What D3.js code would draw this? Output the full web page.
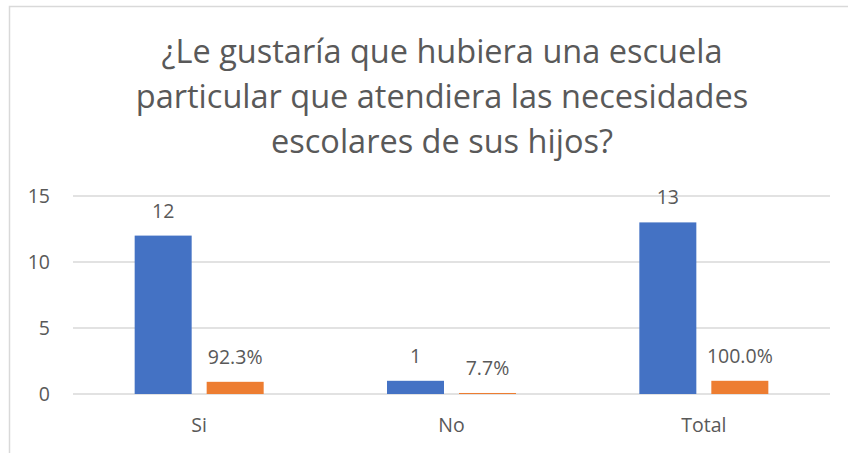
<!DOCTYPE html>
<html>
<head>
<meta charset="utf-8">
<script src="https://cdn.jsdelivr.net/npm/d3@7"></script>
<style>
  body { margin: 0; background: #fff; }
  svg { display: block; font-family: "Open Sans", sans-serif; }
</style>
</head>
<body>
<div id="chart"></div>
<script>
// chart data
const categories = ['Si', 'No', 'Total'];
const counts = [12, 1, 13];
const shares = [0.923, 0.077, 1.0];
const yTicks = [0, 5, 10, 15];
const titleLines = [
    '¿Le gustaría que hubiera una escuela',
    'particular que atendiera las necesidades',
    'escolares de sus hijos?'
];

const width = 848, height = 453;
const textColor = '#595959';
const labelSize = 19.5;

const svg = d3.select('#chart').append('svg')
    .attr('width', width)
    .attr('height', height);

// frame (only top and left edges show in the crop)
svg.append('path')
    .attr('d', 'M9.5,453 V6.5 H848')
    .attr('fill', 'none')
    .attr('stroke', '#d9d9d9')
    .attr('stroke-width', 1.5);

// title
svg.append('g').selectAll('text')
    .data(titleLines)
    .enter().append('text')
    .attr('x', 442)
    .attr('y', (d, i) => 63 + i * 45)
    .attr('text-anchor', 'middle')
    .attr('fill', textColor)
    .attr('font-size', 32.5)
    .text(d => d);

const plot = { left: 73, right: 830, top: 196, bottom: 394 };

const x0 = d3.scaleBand()
    .domain(categories)
    .range([plot.left, plot.right]);

const x1 = d3.scaleBand()
    .domain(['count', 'share'])
    .range([0, 129])
    .paddingInner(15 / 72);

const y = d3.scaleLinear()
    .domain([0, 15])
    .range([plot.bottom, plot.top]);

// gridlines
svg.append('g')
    .selectAll('line')
    .data(yTicks)
    .enter().append('line')
    .attr('x1', plot.left)
    .attr('x2', plot.right)
    .attr('y1', d => y(d))
    .attr('y2', d => y(d))
    .attr('stroke', '#d9d9d9')
    .attr('stroke-width', 1.3);

// y axis labels
const yAxis = svg.append('g')
    .attr('transform', `translate(${plot.left - 23},0)`)
    .call(d3.axisLeft(y).tickValues(yTicks).tickSize(0).tickPadding(0));
yAxis.select('.domain').remove();
yAxis.selectAll('text')
    .attr('font-family', '"Open Sans", sans-serif')
    .attr('font-size', labelSize)
    .attr('fill', textColor);

// x axis labels
const xAxis = svg.append('g')
    .attr('transform', `translate(0,${plot.bottom})`)
    .call(d3.axisBottom(x0).tickSize(0).tickPadding(0));
xAxis.select('.domain').remove();
xAxis.selectAll('text')
    .attr('dy', null)
    .attr('y', 38)
    .attr('font-family', '"Open Sans", sans-serif')
    .attr('font-size', labelSize)
    .attr('fill', textColor);

const groupOffset = (x0.bandwidth() - 129) / 2;

const rows = categories.map((c, i) => [
    { cat: c, key: 'count', value: counts[i], label: String(counts[i]), color: '#4472c4' },
    { cat: c, key: 'share', value: shares[i], label: (shares[i] * 100).toFixed(1) + '%', color: '#ed7d31' }
]).flat();

const bars = svg.append('g');
bars.selectAll('rect')
    .data(rows)
    .enter().append('rect')
    .attr('x', d => x0(d.cat) + groupOffset + x1(d.key))
    .attr('y', d => y(d.value))
    .attr('width', x1.bandwidth())
    .attr('height', d => y(0) - y(d.value))
    .attr('fill', d => d.color);

bars.selectAll('text')
    .data(rows)
    .enter().append('text')
    .attr('x', d => x0(d.cat) + groupOffset + x1(d.key) + x1.bandwidth() / 2)
    .attr('y', d => y(d.value) - 18)
    .attr('text-anchor', 'middle')
    .attr('font-size', labelSize)
    .attr('fill', textColor)
    .text(d => d.label);
</script>
</body>
</html>
